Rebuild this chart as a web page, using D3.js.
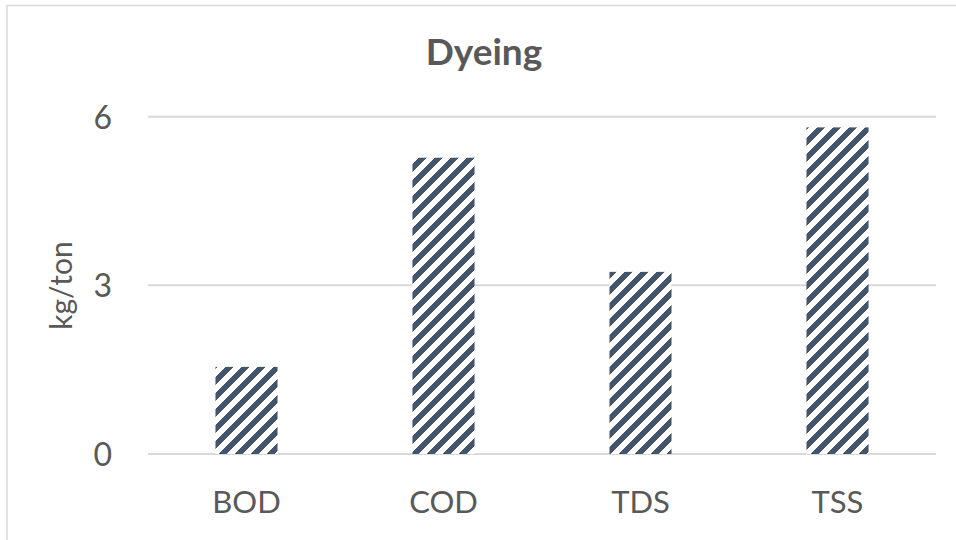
<!DOCTYPE html>
<html>
<head>
<meta charset="utf-8">
<script src="https://cdn.jsdelivr.net/npm/d3@7"></script>
<style>
  html, body { margin: 0; padding: 0; background: #fff; }
  svg { display: block; }
  text { font-family: Lato, "Noto Sans", sans-serif; fill: #595959; }
</style>
</head>
<body>
<svg id="chart" width="956" height="540"></svg>
<script>
// Emission loads per pollutant (kg/ton)
const categories = ["BOD", "COD", "TDS", "TSS"];
const values = [1.55, 5.27, 3.24, 5.81];
const yTicks = [0, 3, 6];
const chartTitle = "Dyeing";
const yAxisTitle = "kg/ton";

const width = 956, height = 540;
const margin = { top: 116.7, right: 20, bottom: 86, left: 148 };
const barFraction = 0.315;
const stripeColor = "#44546A";

const svg = d3.select("#chart");

// hatched fill: wide upward diagonal stripes
const defs = svg.append("defs");
const pat = defs.append("pattern")
  .attr("id", "upDiag")
  .attr("patternUnits", "userSpaceOnUse")
  .attr("width", 16).attr("height", 16);
pat.append("rect").attr("width", 16).attr("height", 16).attr("fill", "#fff");
pat.append("path")
  .attr("d", "M0,0 L8,0 L0,8 Z M16,0 L16,8 L8,16 L0,16 Z")
  .attr("fill", stripeColor)
  .attr("shape-rendering", "crispEdges");

// outer chart border
svg.append("rect")
  .attr("x", 7).attr("y", 5.5)
  .attr("width", width + 10).attr("height", height + 10)
  .attr("fill", "none")
  .attr("stroke", "#d9d9d9")
  .attr("stroke-width", 1.5);

const x = d3.scaleBand()
  .domain(categories)
  .range([margin.left, width - margin.right])
  .padding(0);

const y = d3.scaleLinear()
  .domain([0, 6])
  .range([height - margin.bottom, margin.top]);

// horizontal gridlines
svg.append("g")
  .selectAll("line")
  .data(yTicks)
  .join("line")
  .attr("x1", margin.left)
  .attr("x2", width - margin.right)
  .attr("y1", d => y(d))
  .attr("y2", d => y(d))
  .attr("stroke", "#d9d9d9")
  .attr("stroke-width", 2);

// bars
const bw = x.bandwidth() * barFraction;
svg.append("g")
  .selectAll("rect")
  .data(categories.map((c, i) => ({ c, v: values[i] })))
  .join("rect")
  .attr("x", d => x(d.c) + (x.bandwidth() - bw) / 2)
  .attr("width", bw)
  .attr("y", d => y(d.v))
  .attr("height", d => y(0) - y(d.v))
  .attr("fill", "url(#upDiag)");

// y axis tick labels
const yAxis = d3.axisLeft(y).tickValues(yTicks).tickSize(0).tickPadding(0).tickFormat(d3.format("d"));
const gy = svg.append("g")
  .attr("transform", `translate(${112},0)`)
  .call(yAxis);
gy.select(".domain").remove();
gy.selectAll("text")
  .attr("x", 0)
  .attr("dy", "0.36em")
  .style("font-size", "32px")
  .attr("fill", "#595959");

// x axis category labels
const xAxis = d3.axisBottom(x).tickSize(0).tickPadding(0);
const gx = svg.append("g")
  .attr("transform", `translate(0,${513})`)
  .call(xAxis);
gx.select(".domain").remove();
gx.selectAll("text")
  .attr("y", 0)
  .attr("dy", 0)
  .style("font-size", "31px")
  .attr("fill", "#595959");

// chart title
svg.append("text")
  .attr("x", 484)
  .attr("y", 65)
  .attr("text-anchor", "middle")
  .style("font-size", "37px")
  .style("font-weight", "bold")
  .text(chartTitle);

// y axis title
svg.append("text")
  .attr("transform", `translate(72,285.5) rotate(-90)`)
  .attr("text-anchor", "middle")
  .style("font-size", "30px")
  .text(yAxisTitle);
</script>
</body>
</html>
